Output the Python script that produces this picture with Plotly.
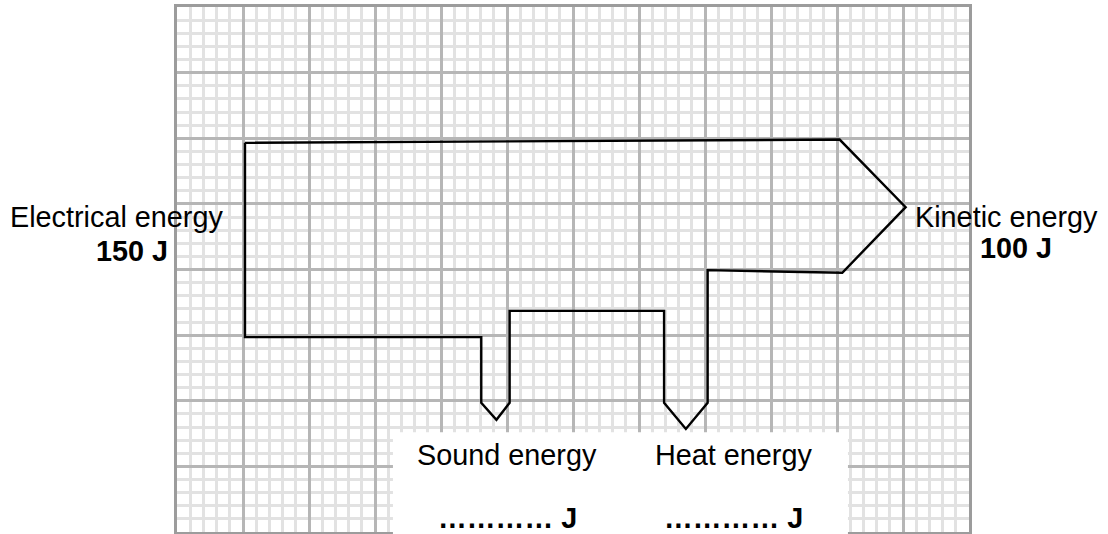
import plotly.graph_objects as go

# Energy transfer (Sankey) diagram drawn on graph paper.
# Grid units: one small square = 1 unit (60 x 40 squares); 1 small square = 10 J.
grid_cols = 60
grid_rows = 40

# Outline of the Sankey arrow, in small-square units (y measured downwards)
outline_x = [5.15, 50.2, 55.2, 50.4, 40.2, 40.2, 38.55, 36.9, 36.9, 25.2, 25.2, 24.2, 23.05, 23.05, 5.15, 5.15]
outline_y = [10.35, 10.1, 15.25, 20.25, 20.05, 30.15, 32.15, 30.15, 23.15, 23.15, 30.15, 31.45, 30.15, 25.15, 25.15, 10.35]

# Labels
input_label = "Electrical energy"
input_value = "150 J"
output_label = "Kinetic energy"
output_value = "100 J"
waste_labels = ["Sound energy", "Heat energy"]
waste_values = ["………… J", "………… J"]

# Label anchor positions (units)
input_pos = [(-4.55, 16.0), (-3.41, 18.6)]
output_pos = [(62.84, 16.0), (63.56, 18.36)]
waste_x = [25.0, 42.16]
waste_label_y = 34.17
waste_value_y = 38.97

# White answer box over the bottom of the grid (units)
box_x = [16.36, 50.83]
box_y_top = 32.4


def fx(u):
    return u / grid_cols


def fy(u):
    return 1 - u / grid_rows


FONT = "Liberation Sans, Arial, sans-serif"
FS = 28.8

fig = go.Figure()
fig.add_trace(go.Scatter(
    x=outline_x, y=outline_y, mode="lines",
    line=dict(color="black", width=2.4),
    hoverinfo="skip", showlegend=False,
))

fig.add_shape(type="rect", xref="paper", yref="paper",
              x0=fx(box_x[0]), x1=fx(box_x[1]), y0=-0.05, y1=fy(box_y_top),
              fillcolor="white", line=dict(width=0), layer="above")

ann = []
def add_text(text, u, v, bold=False):
    ann.append(dict(text=f"<b>{text}</b>" if bold else text,
                    x=fx(u), y=fy(v), xref="paper", yref="paper",
                    xanchor="center", yanchor="middle", showarrow=False,
                    font=dict(family=FONT, size=FS, color="black")))

add_text(input_label, *input_pos[0])
add_text(input_value, *input_pos[1], bold=True)
add_text(output_label, *output_pos[0])
add_text(output_value, *output_pos[1], bold=True)
for xu, lab, val in zip(waste_x, waste_labels, waste_values):
    add_text(lab, xu, waste_label_y)
    add_text(val, xu, waste_value_y, bold=True)

axis_common = dict(
    showticklabels=False, ticks="", zeroline=False,
    showgrid=True, gridcolor="#b6b6b6", gridwidth=3, dtick=5, tick0=0,
    minor=dict(dtick=1, tick0=0, showgrid=True, gridcolor="#e2e2e2", gridwidth=2.5),
    showline=True, mirror=True, linecolor="#9c9c9c", linewidth=3,
    fixedrange=True,
)

fig.update_layout(
    width=1108, height=534,
    margin=dict(l=177, r=139, t=7, b=2),
    paper_bgcolor="white", plot_bgcolor="white",
    xaxis=dict(range=[0, grid_cols], **axis_common),
    yaxis=dict(range=[grid_rows, 0], **axis_common),
    annotations=ann,
    showlegend=False,
)

fig.write_html("out.html", config={"displayModeBar": False},
               post_script="document.body.style.margin='0';document.body.style.overflow='hidden';")
